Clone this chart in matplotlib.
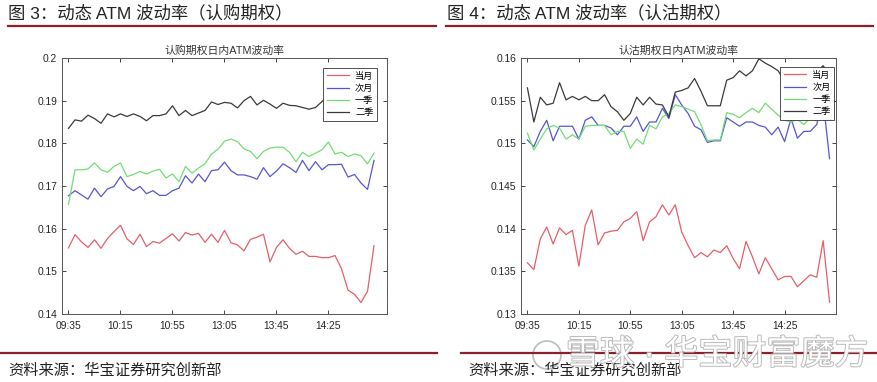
import matplotlib.pyplot as plt
import matplotlib.patheffects as pe
from matplotlib.lines import Line2D
from matplotlib.patches import Ellipse
import numpy as np

plt.rcParams['font.family'] = ['Liberation Sans', 'Noto Sans CJK SC']

W, H = 878, 382

times = ["09:35", "09:40", "09:45", "09:50", "09:55", "10:00", "10:05", "10:10",
         "10:15", "10:20", "10:25", "10:30", "10:35", "10:40", "10:45", "10:50",
         "10:55", "11:00", "11:05", "11:10", "11:15", "11:20", "11:25", "11:30",
         "13:05", "13:10", "13:15", "13:20", "13:25", "13:30", "13:35", "13:40",
         "13:45", "13:50", "13:55", "14:00", "14:05", "14:10", "14:15", "14:20",
         "14:25", "14:30", "14:35", "14:40", "14:45", "14:50", "14:55", "15:00"]
labels = ["当月", "次月", "一季", "二季"]

# 认购期权
call_m1 = [0.1555, 0.1586, 0.1569, 0.1556, 0.1574, 0.1554, 0.1577, 0.1593,
           0.1608, 0.1576, 0.1563, 0.1587, 0.1558, 0.1570, 0.1566, 0.1577,
           0.1588, 0.1571, 0.1591, 0.1585, 0.1589, 0.1568, 0.1587, 0.1568,
           0.1596, 0.1567, 0.1562, 0.1548, 0.1575, 0.1580, 0.1587, 0.1522,
           0.1556, 0.1574, 0.1554, 0.1540, 0.1547, 0.1535, 0.1535, 0.1532,
           0.1532, 0.1537, 0.1506, 0.1456, 0.1446, 0.1427, 0.1453, 0.1560]
call_m2 = [0.1677, 0.1689, 0.1679, 0.1669, 0.1695, 0.1675, 0.1693, 0.1699,
           0.1722, 0.1699, 0.1689, 0.1699, 0.1682, 0.1689, 0.1678, 0.1678,
           0.1689, 0.1695, 0.1724, 0.1707, 0.1728, 0.1710, 0.1736, 0.1738,
           0.1756, 0.1736, 0.1726, 0.1726, 0.1722, 0.1716, 0.1743, 0.1722,
           0.1735, 0.1752, 0.1743, 0.1732, 0.1760, 0.1736, 0.1757, 0.1738,
           0.1750, 0.1750, 0.1751, 0.1721, 0.1727, 0.1707, 0.1692, 0.1760]
call_q1 = [0.1657, 0.1738, 0.1738, 0.1740, 0.1754, 0.1738, 0.1732, 0.1746,
           0.1754, 0.1722, 0.1727, 0.1734, 0.1728, 0.1735, 0.1739, 0.1719,
           0.1728, 0.1710, 0.1746, 0.1730, 0.1742, 0.1752, 0.1775, 0.1786,
           0.1805, 0.1810, 0.1804, 0.1787, 0.1781, 0.1764, 0.1781, 0.1789,
           0.1791, 0.1791, 0.1779, 0.1757, 0.1779, 0.1769, 0.1777, 0.1785,
           0.1803, 0.1775, 0.1779, 0.1769, 0.1775, 0.1771, 0.1752, 0.1777]
call_q2 = [0.1835, 0.1855, 0.1852, 0.1866, 0.1858, 0.1847, 0.1869, 0.1862,
           0.1869, 0.1863, 0.1869, 0.1863, 0.1853, 0.1865, 0.1865, 0.1869,
           0.1888, 0.1865, 0.1877, 0.1865, 0.1871, 0.1877, 0.1897, 0.1891,
           0.1896, 0.1894, 0.1883, 0.1900, 0.1910, 0.1890, 0.1901, 0.1892,
           0.1882, 0.1894, 0.1889, 0.1888, 0.1884, 0.1880, 0.1884, 0.1898,
           0.1912, 0.1925, 0.1932, 0.1928, 0.1938, 0.1933, 0.1942, 0.1936]

# 认沽期权
put_m1 = [0.1360, 0.1352, 0.1388, 0.1402, 0.1382, 0.1401, 0.1393, 0.1398,
          0.1356, 0.1404, 0.1422, 0.1381, 0.1395, 0.1397, 0.1398, 0.1408,
          0.1412, 0.1420, 0.1386, 0.1408, 0.1414, 0.1428, 0.1416, 0.1428,
          0.1396, 0.1380, 0.1366, 0.1372, 0.1367, 0.1375, 0.1372, 0.1380,
          0.1365, 0.1353, 0.1385, 0.1367, 0.1347, 0.1366, 0.1353, 0.1340,
          0.1344, 0.1344, 0.1332, 0.1339, 0.1346, 0.1343, 0.1386, 0.1314]
put_m2 = [0.1504, 0.1496, 0.1514, 0.1527, 0.1503, 0.1520, 0.1520, 0.1520,
          0.1505, 0.1527, 0.1531, 0.1521, 0.1521, 0.1518, 0.1510, 0.1520,
          0.1520, 0.1531, 0.1514, 0.1525, 0.1525, 0.1541, 0.1529, 0.1557,
          0.1545, 0.1535, 0.1520, 0.1516, 0.1501, 0.1503, 0.1503, 0.1530,
          0.1525, 0.1520, 0.1525, 0.1525, 0.1521, 0.1519, 0.1510, 0.1519,
          0.1502, 0.1529, 0.1506, 0.1514, 0.1514, 0.1522, 0.1550, 0.1482]
put_q1 = [0.1512, 0.1492, 0.1505, 0.1517, 0.1521, 0.1518, 0.1505, 0.1510,
          0.1505, 0.1520, 0.1521, 0.1521, 0.1521, 0.1510, 0.1514, 0.1514,
          0.1494, 0.1505, 0.1499, 0.1521, 0.1517, 0.1531, 0.1535, 0.1545,
          0.1543, 0.1540, 0.1537, 0.1522, 0.1503, 0.1504, 0.1504, 0.1536,
          0.1534, 0.1530, 0.1536, 0.1541, 0.1536, 0.1547, 0.1540, 0.1533,
          0.1527, 0.1525, 0.1528, 0.1522, 0.1530, 0.1526, 0.1532, 0.1535]
put_q2 = [0.1565, 0.1525, 0.1554, 0.1545, 0.1547, 0.1571, 0.1551, 0.1555,
          0.1551, 0.1555, 0.1550, 0.1550, 0.1557, 0.1543, 0.1537, 0.1527,
          0.1535, 0.1554, 0.1545, 0.1554, 0.1546, 0.1545, 0.1531, 0.1560,
          0.1562, 0.1565, 0.1576, 0.1561, 0.1544, 0.1544, 0.1544, 0.1574,
          0.1577, 0.1585, 0.1579, 0.1585, 0.1599, 0.1594, 0.1590, 0.1585,
          0.1573, 0.1570, 0.1566, 0.1572, 0.1578, 0.1584, 0.1591, 0.1580]

call_yticks = [0.14, 0.15, 0.16, 0.17, 0.18, 0.19, 0.2]
call_yticklabels = ["0.14", "0.15", "0.16", "0.17", "0.18", "0.19", "0.2"]
put_yticks = [0.13, 0.135, 0.14, 0.145, 0.15, 0.155, 0.16]
put_yticklabels = ["0.13", "0.135", "0.14", "0.145", "0.15", "0.155", "0.16"]

colors = ["#e2606a", "#5656d2", "#72de72", "#3a3a3a"]
MAROON = "#8b1f2c"


def fx(px):
    return px / W


def fy(py):
    return 1 - py / H


fig = plt.figure(figsize=(W / 100, H / 100), dpi=100)

panels = [
    dict(box=(62, 58, 387, 314), xlim=(0, 50), ylim=(0.14, 0.2),
         series=[call_m1, call_m2, call_q1, call_q2],
         yt=call_yticks, ytl=call_yticklabels, leg=(0.969, 0.961),
         title="认购期权日内ATM波动率"),
    dict(box=(521, 58, 836, 314), xlim=(0, 49), ylim=(0.13, 0.16),
         series=[put_m1, put_m2, put_q1, put_q2],
         yt=put_yticks, ytl=put_yticklabels, leg=(0.994, 0.965),
         title="认沽期权日内ATM波动率"),
]

x = np.arange(1, len(times) + 1)
for p in panels:
    l, t, r, b = p["box"]
    ax = fig.add_axes([fx(l), fy(b), (r - l) / W, (b - t) / H])
    for s, c, lab in zip(p["series"], colors, labels):
        ax.plot(x, s, color=c, lw=0.9, label=lab)
    ax.set_xlim(*p["xlim"])
    ax.set_ylim(*p["ylim"])
    ax.set_xticks(x[::8])
    ax.set_xticklabels(times[::8])
    ax.set_yticks(p["yt"])
    ax.set_yticklabels(p["ytl"])
    ax.tick_params(direction="in", top=True, right=True, length=3, width=0.6,
                   labelsize=7.4, colors="#262626")
    ax.tick_params(axis="x", pad=5)
    for sp in ax.spines.values():
        sp.set_color("#555555")
        sp.set_linewidth(0.7)
    ax.set_title(p["title"], fontsize=7.8, pad=3, color="#333333")
    leg = ax.legend(loc="upper right", bbox_to_anchor=p["leg"], borderaxespad=0,
                    fontsize=6.6, fancybox=False, edgecolor="#333333",
                    framealpha=1, handlelength=2.4, labelspacing=0.35,
                    borderpad=0.4, handletextpad=0.7)
    leg.get_frame().set_linewidth(0.6)

# header titles and rules
fig.text(fx(8), fy(13), "图 3：动态 ATM 波动率（认购期权）", fontsize=12.5,
         va="center", ha="left", color="#222222")
fig.text(fx(447), fy(13), "图 4：动态 ATM 波动率（认沽期权）", fontsize=12.5,
         va="center", ha="left", color="#222222")
fig.add_artist(Line2D([fx(8), fx(436)], [fy(26), fy(26)], color=MAROON, lw=1.6))
fig.add_artist(Line2D([fx(446), fx(873)], [fy(26), fy(26)], color=MAROON, lw=1.6))

# footer
fig.add_artist(Line2D([fx(0), fx(437)], [fy(353), fy(353)], color=MAROON, lw=1.6))
fig.add_artist(Line2D([fx(461), fx(878)], [fy(353), fy(353)], color=MAROON, lw=1.6))
fig.text(fx(8), fy(371), "资料来源：华宝证券研究创新部", fontsize=11,
         va="center", ha="left", color="#222222")
fig.text(fx(468), fy(371), "资料来源：华宝证券研究创新部", fontsize=11,
         va="center", ha="left", color="#222222")

# watermark (overlaps the source line, as in the original)
fig.add_artist(Ellipse((fx(547), fy(355)), 28 / W, 28 / H, fill=False,
                       edgecolor="#bdbdbd", lw=1.2))
fig.text(fx(566), fy(355), "雪球 · 华宝财富魔方", fontsize=24.5, va="center",
         ha="left", color="white",
         path_effects=[pe.withStroke(linewidth=1.3, foreground="#b5b5b5")])

fig.savefig("out.png", dpi=100)
